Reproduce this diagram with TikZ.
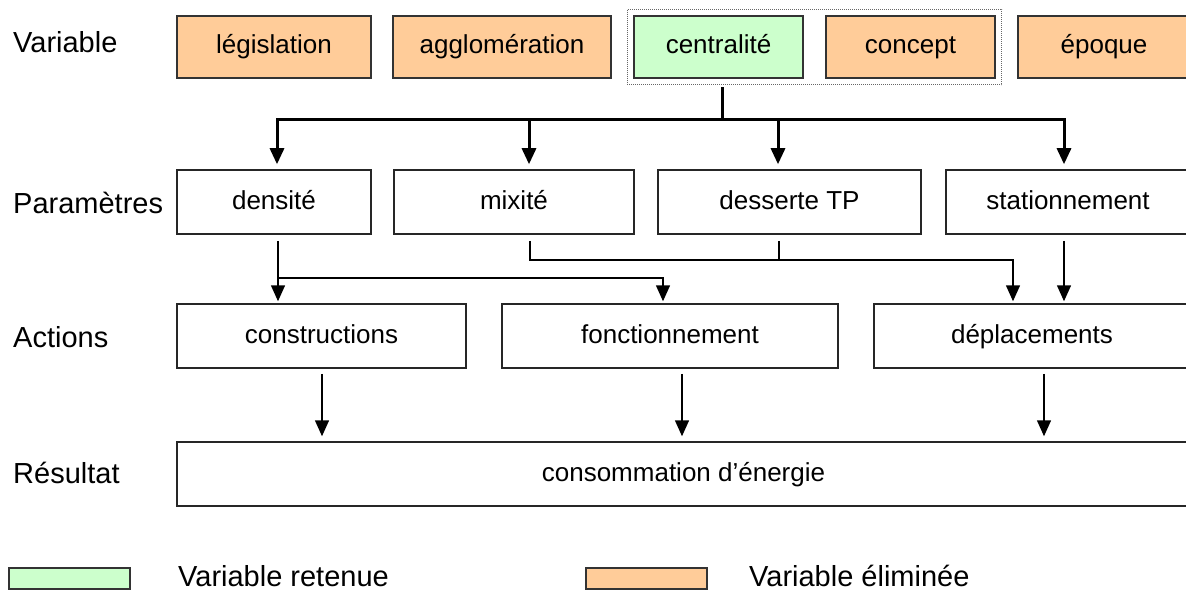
\documentclass[tikz,border=0pt]{standalone}
\usepackage{fontspec}
\setmainfont{Liberation Sans}
\usetikzlibrary{arrows.meta,fit}
\definecolor{retenue}{HTML}{CCFFCC}
\definecolor{eliminee}{HTML}{FFCC99}

\begin{document}
\begin{tikzpicture}[x=1pt,y=-1pt,
    box/.style={draw=black!85,line width=1.5pt,minimum height=64pt,inner sep=0pt,
      text height=19pt,text depth=5pt,font=\fontsize{26}{30}\selectfont},
    varbox/.style={box,draw=black!80,line width=1.8pt,minimum height=62pt},
    lab/.style={anchor=base west,inner sep=0pt,font=\fontsize{29}{34}\selectfont},
    keybox/.style={draw=black!80,line width=1.8pt,minimum width=121pt,minimum height=21pt,inner sep=0pt},
    busline/.style={line width=3pt,line cap=rect},
    busarrow/.style={line width=3pt,-{Triangle[length=16pt,width=14pt]},shorten >=5pt},
    plain/.style={line width=1.5pt},
    flow/.style={line width=1.5pt,-{Triangle[length=16pt,width=14pt]},shorten <=6pt,shorten >=2pt}]
    \useasboundingbox[fill=white] (0,0) rectangle (1186,591);

    % row labels
    \node[lab] (lvar) at (13,53) {Variable};
    \node[lab] (lpar) at (13,213) {Paramètres};
    \node[lab] (lact) at (13,347) {Actions};
    \node[lab] (lres) at (13,483) {Résultat};

    % variables
    \node[varbox,fill=eliminee,minimum width=194pt] (legis) at (274,47) {législation};
    \node[varbox,fill=eliminee,minimum width=218pt] (agglo) at (502,47) {agglomération};
    \node[varbox,fill=retenue,minimum width=169pt] (cen) at (718.5,47) {centralité};
    \node[varbox,fill=eliminee,minimum width=169pt] (concept) at (910.5,47) {concept};
    \node[varbox,fill=eliminee,minimum width=172pt] (epoque) at (1104,47) {époque};
    \node[draw=black!60,densely dotted,line width=1pt,inner sep=6pt,fit=(cen)(concept)] (grp) {};

    % parametres
    \node[box,minimum width=194pt] (dens) at (274,202) {densité};
    \node[box,minimum width=240pt] (mix) at (514,202) {mixité};
    \node[box,minimum width=263pt] (tp) at (789.5,202) {desserte TP};
    \node[box,minimum width=244pt] (stat) at (1068,202) {stationnement};

    % actions
    \node[box,minimum width=289pt] (constr) at (321.5,336) {constructions};
    \node[box,minimum width=336pt] (fonct) at (670,336) {fonctionnement};
    \node[box,minimum width=316pt] (depl) at (1032,336) {déplacements};

    % resultat
    \node[box,minimum width=1013pt] (res) at (683.5,474) {consommation d’énergie};

    % variable -> parametres
    \coordinate (bus) at (0,120);
    \coordinate (stem) at ([xshift=4pt,yshift=-10pt]cen.south);
    \coordinate (d1) at ([xshift=3pt]dens.north);
    \coordinate (d2) at ([xshift=15pt]mix.north);
    \coordinate (d3) at ([xshift=-11.5pt]tp.north);
    \coordinate (d4) at ([xshift=-4pt]stat.north);
    \draw[busline] (stem) -- (stem |- bus);
    \draw[busline] (d1 |- bus) -- (d4 |- bus);
    \foreach \d in {d1,d2,d3,d4}
      \draw[busarrow] (\d |- bus) -- (\d);

    % parametres -> actions
    \coordinate (lvlA) at (0,260);
    \coordinate (lvlB) at (0,278);
    \coordinate (p1) at ([xshift=4pt]dens.south);
    \coordinate (p2) at ([xshift=16pt]mix.south);
    \coordinate (p3) at ([xshift=-10.5pt]tp.south);
    \coordinate (p4) at ([xshift=-4pt]stat.south);
    \coordinate (a1) at ([xshift=-43.5pt]constr.north);
    \coordinate (a2) at ([xshift=-7pt]fonct.north);
    \coordinate (a3) at ([xshift=-19pt]depl.north);
    \coordinate (a4) at ([xshift=32pt]depl.north);
    \draw[flow] (p1) -- (a1);
    \draw[flow,shorten <=0pt] (p1 |- lvlB) -| (a2);
    \draw[flow] (p2) |- (a3 |- lvlA) -- (a3);
    \draw[plain,shorten <=6pt] (p3) -- (p3 |- lvlA);
    \draw[flow] (p4) -- (a4);

    % actions -> resultat
    \foreach \a/\s in {constr/0.5pt,fonct/12pt,depl/12pt}{
      \coordinate (r) at ([xshift=\s]\a.south);
      \draw[flow,shorten <=5pt,shorten >=5pt] (r) -- (r |- res.north);
    }

    % legende
    \node[keybox,fill=retenue] (kret) at (69.5,578.5) {};
    \node[lab] (tret) at (178,586) {Variable retenue};
    \node[keybox,fill=eliminee] (kelim) at (646.5,578.5) {};
    \node[lab] (telim) at (749,586) {Variable éliminée};
\end{tikzpicture}
\end{document}
